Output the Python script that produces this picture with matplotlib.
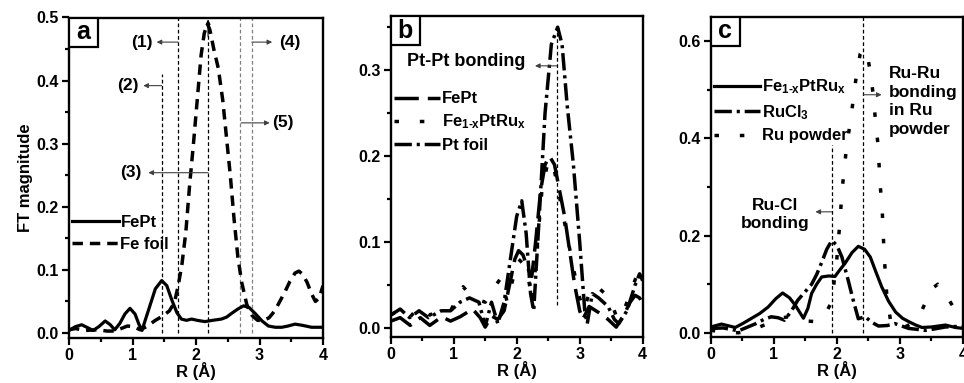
import numpy as np
import matplotlib
matplotlib.use('Agg')
import matplotlib.pyplot as plt
from matplotlib.ticker import MultipleLocator
from matplotlib.patches import Rectangle

plt.rcParams['font.family'] = ['Liberation Sans', 'DejaVu Sans']
plt.rcParams['font.weight'] = 'bold'
plt.rcParams['axes.labelweight'] = 'bold'
plt.rcParams['mathtext.fontset'] = 'custom'
plt.rcParams['mathtext.rm'] = 'Liberation Sans:bold'
plt.rcParams['mathtext.it'] = 'Liberation Sans:bold'
plt.rcParams['mathtext.default'] = 'rm'

# ---- panel a: Fe K-edge ----
r_fept_a = [0, 0.1, 0.2, 0.3, 0.38, 0.47, 0.57, 0.65, 0.72, 0.8, 0.88, 0.96, 1.04, 1.1,
            1.15, 1.2, 1.28, 1.36, 1.46, 1.54, 1.62, 1.7, 1.77, 1.85, 1.93, 2.02, 2.14,
            2.26, 2.4, 2.48, 2.56, 2.66, 2.75, 2.84, 2.93, 3.04, 3.14, 3.25, 3.35, 3.45,
            3.56, 3.68, 3.82, 4.0]
ft_fept_a = [0.004, 0.01, 0.013, 0.008, 0.004, 0.01, 0.019, 0.013, 0.005, 0.015, 0.03,
             0.039, 0.03, 0.014, 0.004, 0.02, 0.045, 0.07, 0.083, 0.075, 0.052, 0.032,
             0.022, 0.02, 0.022, 0.02, 0.018, 0.02, 0.022, 0.025, 0.031, 0.038, 0.043,
             0.04, 0.031, 0.019, 0.011, 0.009, 0.009, 0.011, 0.014, 0.012, 0.009, 0.009]
r_fefoil = [0, 0.1, 0.26, 0.46, 0.6, 0.72, 0.82, 0.92, 1.02, 1.12, 1.22, 1.36, 1.48, 1.58,
            1.66, 1.72, 1.78, 1.84, 1.9, 1.96, 2.02, 2.08, 2.13, 2.18, 2.22, 2.28, 2.35,
            2.42, 2.48, 2.54, 2.6, 2.66, 2.72, 2.8, 2.88, 2.97, 3.06, 3.15, 3.24, 3.32,
            3.4, 3.48, 3.56, 3.62, 3.68, 3.75, 3.82, 3.88, 3.94, 4.0]
ft_fefoil = [0.005, 0.007, 0.004, 0.005, 0.003, 0.003, 0.007, 0.011, 0.01, 0.005, 0.01,
             0.02, 0.027, 0.035, 0.048, 0.075, 0.11, 0.16, 0.235, 0.3, 0.37, 0.44, 0.475,
             0.49, 0.48, 0.45, 0.42, 0.37, 0.31, 0.25, 0.18, 0.12, 0.08, 0.045, 0.028,
             0.02, 0.02, 0.024, 0.035, 0.05, 0.065, 0.082, 0.095, 0.098, 0.093, 0.08,
             0.062, 0.05, 0.055, 0.075]
vlines_a = [1.46, 1.72, 2.19, 2.69, 2.88]
vtops_a = [0.41, 0.5, 0.49, 0.5, 0.5]
vcolors_a = ['k', 'k', 'k', '0.5', '0.5']

# ---- panel b: Pt L3-edge ----
r_fept_b = [0, 0.15, 0.31, 0.47, 0.62, 0.81, 0.95, 1.1, 1.3, 1.42, 1.5, 1.6, 1.7, 1.8,
            1.9, 1.97, 2.03, 2.1, 2.17, 2.24, 2.3, 2.38, 2.45, 2.52, 2.6, 2.68, 2.76, 2.84,
            2.92, 3.0, 3.05, 3.15, 3.3, 3.45, 3.58, 3.7, 3.8, 3.88, 3.95, 4.0]
ft_fept_b = [0.008, 0.012, 0.003, 0.012, 0.003, 0.013, 0.008, 0.013, 0.022, 0.012, 0.001,
             0.014, 0.01, 0.02, 0.055, 0.08, 0.09, 0.085, 0.07, 0.06, 0.1, 0.16, 0.19,
             0.2, 0.19, 0.16, 0.13, 0.09, 0.05, 0.02, 0.01, 0.025, 0.018, 0.01, 0.001,
             0.015, 0.03, 0.038, 0.035, 0.028]
r_feptru_b = [0, 0.15, 0.3, 0.45, 0.62, 0.8, 0.95, 1.15, 1.3, 1.5, 1.62, 1.75, 1.85, 1.95,
              2.03, 2.1, 2.18, 2.25, 2.32, 2.4, 2.5, 2.58, 2.66, 2.74, 2.82, 2.9, 2.98,
              3.06, 3.15, 3.25, 3.4, 3.5, 3.6, 3.7, 3.8, 3.9, 4.0]
ft_feptru_b = [0.015, 0.022, 0.012, 0.025, 0.015, 0.022, 0.02, 0.048, 0.035, 0.03, 0.045,
               0.058, 0.03, 0.06, 0.08, 0.075, 0.06, 0.03, 0.09, 0.16, 0.195, 0.19, 0.16,
               0.13, 0.1, 0.07, 0.04, 0.02, 0.04, 0.05, 0.04, 0.03, 0.01, 0.02, 0.04,
               0.06, 0.055]
r_ptfoil = [0, 0.15, 0.3, 0.45, 0.6, 0.8, 0.95, 1.1, 1.25, 1.4, 1.5, 1.6, 1.7, 1.8, 1.9,
            2.0, 2.08, 2.15, 2.22, 2.27, 2.35, 2.45, 2.55, 2.65, 2.72, 2.8, 2.9, 3.0, 3.08,
            3.12, 3.2, 3.3, 3.45, 3.55, 3.62, 3.75, 3.88, 3.95, 4.0]
ft_ptfoil = [0.015, 0.022, 0.012, 0.02, 0.012, 0.02, 0.02, 0.03, 0.035, 0.03, 0.002,
             0.03, 0.005, 0.03, 0.08, 0.13, 0.148, 0.11, 0.04, 0.02, 0.12, 0.25, 0.33,
             0.35, 0.33, 0.26, 0.19, 0.1, 0.02, 0.005, 0.04, 0.035, 0.025, 0.01, 0.005,
             0.02, 0.05, 0.063, 0.055]

# ---- panel c: Ru K-edge ----
r_feptru_c = [0, 0.17, 0.39, 0.52, 0.65, 0.78, 0.91, 1.03, 1.14, 1.25, 1.34, 1.47, 1.54,
              1.6, 1.68, 1.76, 1.87, 1.97, 2.05, 2.13, 2.24, 2.34, 2.44, 2.53, 2.62, 2.71,
              2.82, 2.93, 3.04, 3.14, 3.25, 3.35, 3.5, 3.72, 3.88, 4.0]
ft_feptru_c = [0.012, 0.018, 0.011, 0.02, 0.03, 0.04, 0.053, 0.07, 0.082, 0.072, 0.057,
               0.03, 0.05, 0.081, 0.1, 0.115, 0.117, 0.116, 0.13, 0.143, 0.165, 0.178,
               0.172, 0.156, 0.125, 0.095, 0.065, 0.043, 0.03, 0.023, 0.016, 0.011, 0.012,
               0.016, 0.011, 0.009]
r_rucl3 = [0, 0.2, 0.44, 0.7, 0.85, 0.96, 1.07, 1.17, 1.28, 1.38, 1.5, 1.6, 1.68, 1.76,
           1.84, 1.92, 2.0, 2.08, 2.18, 2.26, 2.34, 2.45, 2.55, 2.66, 2.8, 2.92, 3.05,
           3.14, 3.28, 3.4, 3.55, 3.72, 3.88, 4.0]
ft_rucl3 = [0.009, 0.01, 0.004, 0.018, 0.028, 0.033, 0.031, 0.026, 0.045, 0.067, 0.085,
            0.1, 0.12, 0.145, 0.172, 0.19, 0.18, 0.156, 0.108, 0.067, 0.029, 0.033, 0.022,
            0.014, 0.015, 0.019, 0.013, 0.009, 0.007, 0.005, 0.008, 0.012, 0.013, 0.012]
r_rupowder = [0, 0.22, 0.44, 0.6, 0.76, 0.97, 1.1, 1.23, 1.4, 1.55, 1.68, 1.8, 1.92, 2.0,
              2.05, 2.08, 2.12, 2.16, 2.21, 2.26, 2.31, 2.37, 2.42, 2.48, 2.54, 2.58, 2.61,
              2.65, 2.69, 2.72, 2.75, 2.79, 2.85, 2.95, 3.08, 3.2, 3.35, 3.51, 3.6, 3.75,
              3.86, 3.96, 4.0]
ft_rupowder = [0.005, 0.002, 0.0, 0.004, 0.011, 0.023, 0.03, 0.033, 0.03, 0.024, 0.023,
               0.035, 0.064, 0.153, 0.23, 0.29, 0.34, 0.39, 0.43, 0.48, 0.53, 0.574, 0.585,
               0.574, 0.53, 0.485, 0.44, 0.39, 0.3, 0.25, 0.16, 0.08, 0.026, 0.008, 0.012,
               0.02, 0.047, 0.091, 0.1, 0.074, 0.05, 0.036, 0.04]
vlines_c = [1.92, 2.42]
vtops_c = [0.386, 0.65]

W, H = 964, 383
fig = plt.figure(figsize=(W / 100, H / 100), dpi=100)


def px_axes(x0, y0, x1, y1):
    return fig.add_axes([x0 / W, 1 - y1 / H, (x1 - x0) / W, (y1 - y0) / H])


ax_a = px_axes(69, 17.5, 323, 338)
ax_b = px_axes(390.7, 16, 642.7, 337)
ax_c = px_axes(710.7, 17, 963, 336.7)

FS = 11.5       # tick labels
LFS = 12        # legend
AFS = 12.5      # annotations
dash_long = (7, 2.6)
dash_dot = (5.0, 1.4, 0.9, 1.4)
dotted = (1.3, 6.0)


def style(ax, ylim, ymaj, ymin, letter):
    ax.set_xlim(0, 4)
    ax.set_ylim(*ylim)
    ax.xaxis.set_major_locator(MultipleLocator(1))
    ax.xaxis.set_minor_locator(MultipleLocator(0.5))
    ax.yaxis.set_major_locator(MultipleLocator(ymaj))
    ax.yaxis.set_minor_locator(MultipleLocator(ymin))
    ax.tick_params(which='both', direction='out', width=1.6, labelsize=FS, pad=2.5)
    ax.tick_params(which='major', length=5)
    ax.tick_params(which='minor', length=3)
    for lab in ax.get_xticklabels() + ax.get_yticklabels():
        lab.set_fontweight('bold')
    for sp in ax.spines.values():
        sp.set_linewidth(1.7)
    ax.set_xlabel('R (Å)', fontsize=12, labelpad=-1)
    bw = 29 / (ax.get_position().width * W)
    bh = 29 / (ax.get_position().height * H)
    ax.add_patch(Rectangle((0, 1 - bh), bw, bh, transform=ax.transAxes,
                           facecolor='white', edgecolor='k', lw=1.6, zorder=5))
    ax.text(bw / 2, 1 - bh / 2, letter, transform=ax.transAxes, ha='center',
            va='center', fontsize=18, fontweight='bold', zorder=6)


def arrow(ax, x0, x1, y):
    ax.annotate('', xy=(x1, y), xytext=(x0, y),
                arrowprops=dict(arrowstyle='-|>', color='0.25', lw=0.8,
                                mutation_scale=7, shrinkA=0, shrinkB=0))


def legend(ax, y_top, spacing):
    ax.legend(loc='upper left', bbox_to_anchor=(0.012, y_top), frameon=False,
              fontsize=LFS, handlelength=2.8, handletextpad=0.1, borderpad=0,
              borderaxespad=0, labelspacing=spacing)


# panel a
ax = ax_a
for xv, top, col in zip(vlines_a, vtops_a, vcolors_a):
    ax.plot([xv, xv], [0, top], color=col, lw=0.9, dashes=(3, 2))
ax.plot(r_fept_a, ft_fept_a, 'k-', lw=2.3, label='FePt')
ax.plot(r_fefoil, ft_fefoil, 'k', lw=2.5, dashes=(3.0, 2.0), label='Fe foil')
ax.annotate('', xy=(2.19, 0.497), xytext=(2.19, 0.47),
            arrowprops=dict(arrowstyle='-|>', color='k', lw=0.8, mutation_scale=7,
                            shrinkA=0, shrinkB=0))
arrow(ax, 1.72, 1.38, 0.461)
arrow(ax, 1.46, 1.17, 0.392)
arrow(ax, 2.19, 1.25, 0.254)
arrow(ax, 2.88, 3.2, 0.461)
arrow(ax, 2.71, 3.16, 0.333)
tkw = dict(fontsize=AFS, fontweight='bold', ha='center', va='center')
ax.text(1.14, 0.461, '(1)', **tkw)
ax.text(0.93, 0.392, '(2)', **tkw)
ax.text(0.98, 0.254, '(3)', **tkw)
ax.text(3.47, 0.461, '(4)', **tkw)
ax.text(3.37, 0.333, '(5)', **tkw)
style(ax, (-0.008, 0.5), 0.1, 0.05, 'a')
ax.set_ylabel('FT magnitude', fontsize=12, labelpad=2)
legend(ax, 0.385, 0.45)

# panel b
ax = ax_b
ax.plot([2.635, 2.635], [0.027, 0.348], color='k', lw=0.9, dashes=(3, 2))
ax.plot(r_fept_b, ft_fept_b, 'k', lw=2.5, dashes=dash_long, label='FePt')
ax.plot(r_feptru_b, ft_feptru_b, 'k', lw=2.5, dashes=dotted,
        label='Fe$_{1\u2010x}$PtRu$_x$')
ax.plot(r_ptfoil, ft_ptfoil, 'k', lw=2.5, dashes=dash_dot, label='Pt foil')
arrow(ax, 2.635, 2.29, 0.305)
ax.text(1.2, 0.31, 'Pt-Pt bonding', fontsize=AFS + 0.5, fontweight='bold',
        ha='center', va='center')
style(ax, (-0.0105, 0.363), 0.1, 0.05, 'b')
legend(ax, 0.765, 0.38)

# panel c
ax = ax_c
for xv, top in zip(vlines_c, vtops_c):
    ax.plot([xv, xv], [0, top], color='k', lw=0.9, dashes=(3, 2))
ax.plot(r_feptru_c, ft_feptru_c, 'k-', lw=2.3, label='Fe$_{1\u2010x}$PtRu$_x$')
ax.plot(r_rucl3, ft_rucl3, 'k', lw=2.5, dashes=dash_dot, label='RuCl$_3$')
ax.plot(r_rupowder, ft_rupowder, 'k', lw=2.5, dashes=dotted, label='Ru powder')
arrow(ax, 1.92, 1.66, 0.249)
arrow(ax, 2.42, 2.71, 0.49)
ax.text(1.02, 0.244, 'Ru-Cl\nbonding', fontsize=AFS, fontweight='bold', ha='center',
        va='center', linespacing=1.25)
ax.text(2.83, 0.476, 'Ru-Ru\nbonding\nin Ru\npowder', fontsize=AFS,
        fontweight='bold', ha='left', va='center', linespacing=1.3)
style(ax, (-0.008, 0.65), 0.2, 0.1, 'c')
legend(ax, 0.81, 0.4)

fig.savefig('out.png', dpi=100)
